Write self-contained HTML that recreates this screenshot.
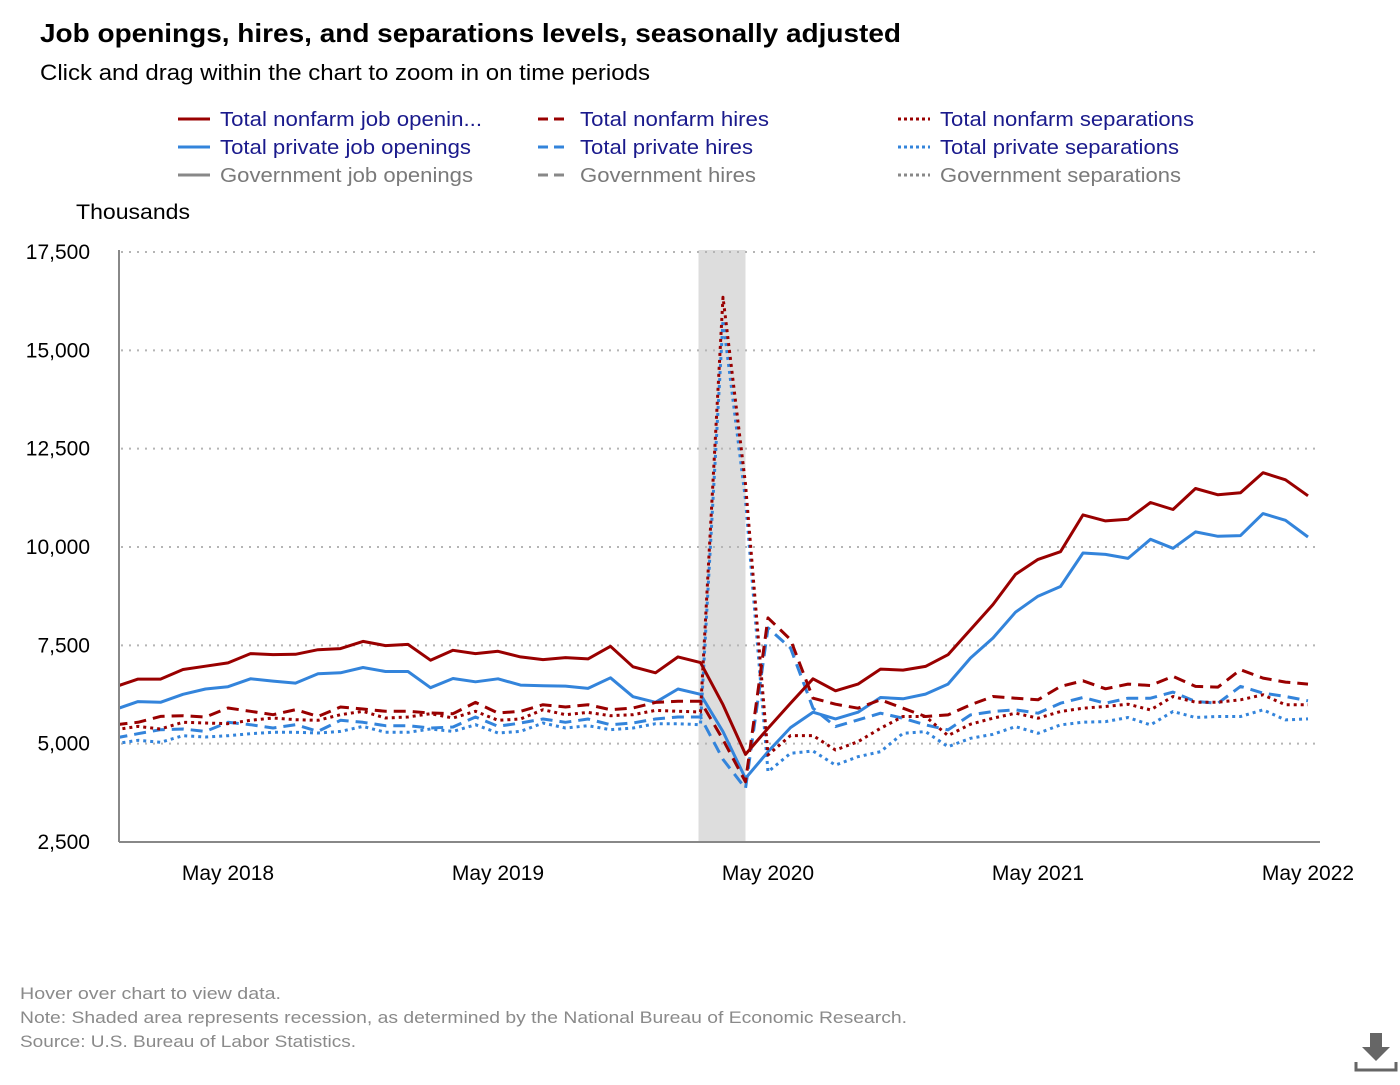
<!DOCTYPE html>
<html><head><meta charset="utf-8">
<style>
html,body{margin:0;padding:0;background:#fff;}
body{width:1400px;height:1080px;overflow:hidden;font-family:"Liberation Sans","DejaVu Sans",sans-serif;}
svg text{font-family:"Liberation Sans","DejaVu Sans",sans-serif;}
</style></head>
<body>
<svg id="chart" width="1400" height="1080" viewBox="0 0 1400 1080" xmlns="http://www.w3.org/2000/svg">
  <text x="40" y="42" font-size="26" font-weight="bold" fill="#000" textLength="861" lengthAdjust="spacingAndGlyphs">Job openings, hires, and separations levels, seasonally adjusted</text>
  <text x="40" y="80" font-size="22" fill="#000" textLength="610" lengthAdjust="spacingAndGlyphs">Click and drag within the chart to zoom in on time periods</text>
  <g id="legend"></g>
  <text x="76" y="219" font-size="21" fill="#000" textLength="114" lengthAdjust="spacingAndGlyphs">Thousands</text>
  <defs><clipPath id="plotclip"><rect x="119" y="240" width="1205" height="602"/></clipPath></defs>
  <rect id="recession" fill="#dddddd"/>
  <g id="grid"></g>
  <g id="yticks"></g>
  <g id="xticks"></g>
  <g id="series" clip-path="url(#plotclip)"></g>
  <line x1="119" y1="250" x2="119" y2="842" stroke="#888" stroke-width="2"/>
  <line x1="119" y1="842" x2="1320" y2="842" stroke="#888" stroke-width="2"/>
  <text x="20" y="999" font-size="17" fill="#8a8a8a" textLength="261" lengthAdjust="spacingAndGlyphs">Hover over chart to view data.</text>
  <text x="20" y="1023" font-size="17" fill="#8a8a8a" textLength="887" lengthAdjust="spacingAndGlyphs">Note: Shaded area represents recession, as determined by the National Bureau of Economic Research.</text>
  <text x="20" y="1047" font-size="17" fill="#8a8a8a" textLength="336" lengthAdjust="spacingAndGlyphs">Source: U.S. Bureau of Labor Statistics.</text>
  <g>
    <rect x="1370" y="1033" width="12" height="16" fill="#666"/>
    <polygon points="1362,1047 1390,1047 1376,1061" fill="#666"/>
    <polyline points="1356,1062 1356,1070 1396,1070 1396,1062" fill="none" stroke="#666" stroke-width="3"/>
  </g>
</svg>
<script>
const months = ["Dec 2017","Jan 2018","Feb 2018","Mar 2018","Apr 2018","May 2018","Jun 2018","Jul 2018","Aug 2018","Sep 2018","Oct 2018","Nov 2018","Dec 2018","Jan 2019","Feb 2019","Mar 2019","Apr 2019","May 2019","Jun 2019","Jul 2019","Aug 2019","Sep 2019","Oct 2019","Nov 2019","Dec 2019","Jan 2020","Feb 2020","Mar 2020","Apr 2020","May 2020","Jun 2020","Jul 2020","Aug 2020","Sep 2020","Oct 2020","Nov 2020","Dec 2020","Jan 2021","Feb 2021","Mar 2021","Apr 2021","May 2021","Jun 2021","Jul 2021","Aug 2021","Sep 2021","Oct 2021","Nov 2021","Dec 2021","Jan 2022","Feb 2022","Mar 2022","Apr 2022","May 2022"];
const nonfarmOpenings = [6448,6641,6641,6885,6970,7054,7290,7264,7273,7390,7416,7601,7492,7525,7121,7374,7290,7348,7205,7138,7188,7155,7475,6953,6801,7205,7062,5990,4728,5391,6029,6650,6344,6514,6897,6871,6965,7262,7900,8538,9303,9686,9881,10816,10663,10706,11131,10953,11488,11327,11378,11888,11709,11301];
const privateOpenings = [5875,6069,6052,6254,6389,6448,6650,6591,6540,6776,6801,6936,6835,6835,6422,6658,6574,6650,6490,6473,6464,6405,6675,6195,6052,6389,6254,5307,4116,4797,5409,5800,5630,5800,6174,6140,6259,6514,7177,7687,8342,8750,8997,9847,9813,9711,10196,9966,10383,10272,10289,10850,10680,10255];
const nonfarmHires = [5483,5542,5694,5712,5678,5907,5822,5737,5864,5694,5932,5881,5822,5822,5780,5763,6050,5780,5822,5991,5932,5991,5864,5907,6050,6076,6076,5100,4031,8198,7645,6157,6004,5902,6114,5902,5690,5732,5987,6200,6157,6114,6455,6599,6395,6514,6480,6710,6455,6437,6880,6667,6565,6514];
const privateHires = [5144,5254,5356,5373,5313,5542,5483,5398,5483,5313,5593,5542,5458,5458,5398,5424,5678,5441,5525,5627,5542,5627,5483,5525,5627,5678,5678,4600,3861,7943,7432,5902,5434,5604,5775,5647,5477,5349,5732,5817,5860,5775,6030,6174,6030,6157,6157,6310,6072,6030,6455,6285,6200,6089];
const nonfarmSeparations = [5356,5440,5373,5542,5525,5508,5593,5653,5610,5593,5737,5822,5653,5678,5763,5653,5822,5593,5627,5864,5737,5796,5712,5737,5847,5822,5805,16350,11600,4711,5204,5204,4839,5051,5391,5690,5690,5204,5494,5647,5775,5647,5817,5902,5944,6004,5859,6200,6055,6055,6114,6242,5987,5987];
const privateSeparations = [5000,5085,5034,5203,5169,5203,5254,5288,5288,5271,5313,5440,5288,5288,5373,5313,5483,5271,5313,5525,5398,5458,5356,5398,5508,5508,5483,15765,11200,4286,4754,4813,4456,4669,4797,5264,5307,4924,5137,5239,5434,5264,5477,5545,5562,5664,5477,5817,5664,5690,5690,5860,5604,5630];
const yTicks = [2500,5000,7500,10000,12500,15000,17500];
const xTickLabels = ["May 2018","May 2019","May 2020","May 2021","May 2022"];
const recessionRange = ["Feb 2020","Apr 2020"];

const NS = "http://www.w3.org/2000/svg";
const x = i => 115.5 + i * 22.5;
const xm = m => x(months.indexOf(m));
const y = v => 842 - (v - 2500) / 15000 * 590;
function mk(tag, attrs, parent){ const e=document.createElementNS(NS,tag); for(const k in attrs) e.setAttribute(k,attrs[k]); parent.appendChild(e); return e; }

const rec = document.getElementById('recession');
rec.setAttribute('x', xm(recessionRange[0]) - 2);
rec.setAttribute('y', 250);
rec.setAttribute('width', xm(recessionRange[1]) - xm(recessionRange[0]) + 2);
rec.setAttribute('height', 592);

const grid = document.getElementById('grid'), yt = document.getElementById('yticks');
yTicks.forEach(t => {
  if (t > 2500) {
    const g = mk('line',{x1:121,x2:1316,y1:y(t),y2:y(t),stroke:'#b5b5b5','stroke-width':2,'stroke-dasharray':'2,6'},grid);
    
    
  }
  const tx = mk('text',{x:90,y:y(t)+7,'font-size':21,'text-anchor':'end',fill:'#000'},yt);
  tx.textContent = t.toLocaleString('en-US');
  
  
});
const xt = document.getElementById('xticks');
xTickLabels.forEach(l => {
  const tx = mk('text',{x:xm(l),y:880,'font-size':21,'text-anchor':'middle',fill:'#000'},xt);
  tx.textContent = l;
  
  
});

const RED = '#990000', BLUE = '#3384db';
const seriesDefs = [
  {name:'private-separations-line', data:privateSeparations, color:BLUE, dash:'3,4'},
  {name:'private-hires-line', data:privateHires, color:BLUE, dash:'12,7'},
  {name:'private-openings-line', data:privateOpenings, color:BLUE, dash:''},
  {name:'nonfarm-separations-line', data:nonfarmSeparations, color:RED, dash:'3,4'},
  {name:'nonfarm-hires-line', data:nonfarmHires, color:RED, dash:'12,7'},
  {name:'nonfarm-openings-line', data:nonfarmOpenings, color:RED, dash:''}
];
const sg = document.getElementById('series');
seriesDefs.forEach(s => {
  const pts = s.data.map((v,i)=> x(i).toFixed(1)+','+y(v).toFixed(1)).join(' ');
  const a = {points:pts,fill:'none',stroke:s.color,'stroke-width':3,'stroke-linejoin':'round'};
  if (s.dash) a['stroke-dasharray'] = s.dash;
  const p = mk('polyline',a,sg);
  
  
});

const legendItems = [
  {label:'Total nonfarm job openin...', color:RED, dash:'', text:'#1a1a8c', col:0,row:0,w:262},
  {label:'Total nonfarm hires', color:RED, dash:'10,6', text:'#1a1a8c', col:1,row:0,w:189},
  {label:'Total nonfarm separations', color:RED, dash:'3,3', text:'#1a1a8c', col:2,row:0,w:254},
  {label:'Total private job openings', color:BLUE, dash:'', text:'#1a1a8c', col:0,row:1,w:251},
  {label:'Total private hires', color:BLUE, dash:'10,6', text:'#1a1a8c', col:1,row:1,w:173},
  {label:'Total private separations', color:BLUE, dash:'3,3', text:'#1a1a8c', col:2,row:1,w:239},
  {label:'Government job openings', color:'#888', dash:'', text:'#7a7a7a', col:0,row:2,w:253},
  {label:'Government hires', color:'#888', dash:'10,6', text:'#7a7a7a', col:1,row:2,w:176},
  {label:'Government separations', color:'#888', dash:'3,3', text:'#7a7a7a', col:2,row:2,w:241}
];
const lg = document.getElementById('legend');
legendItems.forEach(it => {
  const gx = 178 + it.col*360, gy = 119 + it.row*28;
  const g = mk('g',{},lg);
  
  
  const la = {x1:gx,x2:gx+32,y1:gy,y2:gy,stroke:it.color,'stroke-width':3};
  if (it.dash) la['stroke-dasharray'] = it.dash;
  mk('line',la,g);
  const t = mk('text',{x:gx+42,y:gy+7,'font-size':20,fill:it.text,textLength:it.w,lengthAdjust:'spacingAndGlyphs'},g);
  t.textContent = it.label;
});
</script>
</body></html>
